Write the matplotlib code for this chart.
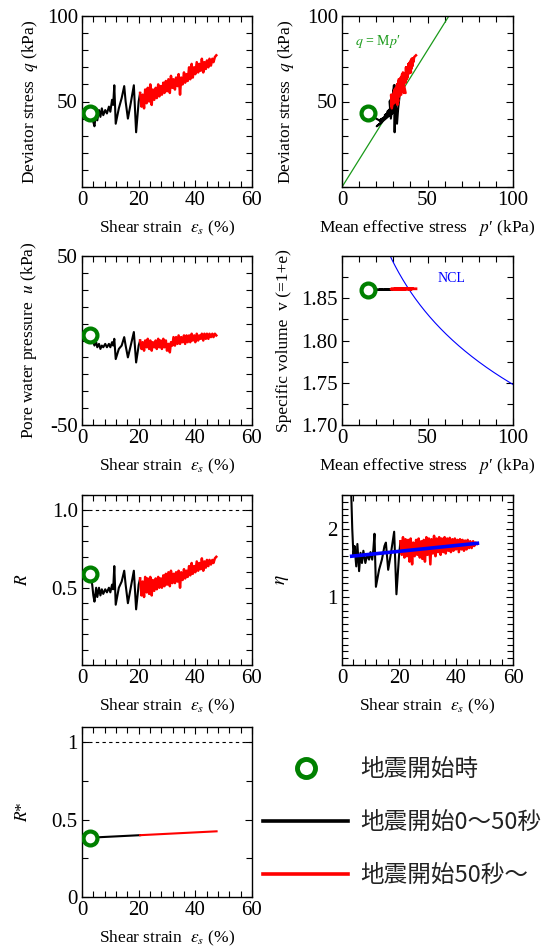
import numpy as np
import matplotlib
matplotlib.use("Agg")
import matplotlib.pyplot as plt
from matplotlib.lines import Line2D
from matplotlib.ticker import MultipleLocator, FixedLocator, FixedFormatter

plt.rcParams['font.family'] = 'serif'
plt.rcParams['font.serif'] = ['Liberation Serif', 'DejaVu Serif']
plt.rcParams['mathtext.fontset'] = 'stix'

# state at the start of shaking
eps0, q0, p0, u0, R0, v0, rs0 = 2.8, 43.4, 15.0, 3.1, 0.587, 1.860, 0.384

# 0-50 s after the start of shaking
eps_black = [3.0, 3.6, 4.0, 4.4, 5.0, 5.4, 6.0, 6.5, 7.0, 7.5,
             8.2, 8.8, 9.5, 10.0, 10.6, 11.0, 11.4, 11.9, 13.0, 14.0,
             14.9, 15.4, 16.2, 17.2, 18.3, 19.1, 20.0, 20.5]
q_black = [43, 40, 38, 35.5, 44, 39, 45, 41, 46, 42,
           45, 43, 47, 44, 51, 48, 59.5, 37, 46, 52,
           59, 50, 40, 49, 59.5, 32, 50, 55]
u_black = [2, 0, -1, -3, -1, -4, -2, -5, -3, -4,
           -2, -4, -2, -4, -1, -3, 1, -11, -5, -3,
           2, -3, -10, -3, 5, -13, -3, 0]
R_black = [0.58, 0.52, 0.45, 0.41, 0.50, 0.44, 0.50, 0.45, 0.49, 0.46,
           0.49, 0.47, 0.50, 0.47, 0.52, 0.49, 0.64, 0.39, 0.50, 0.54,
           0.61, 0.52, 0.40, 0.50, 0.61, 0.36, 0.52, 0.56]
eta_black = [2.87, 2.00, 1.62, 1.75, 1.45, 1.78, 1.38, 1.65, 1.50, 1.68,
             1.50, 1.62, 1.55, 1.66, 1.55, 1.70, 1.93, 1.15, 1.40, 1.55,
             1.75, 1.80, 1.40, 1.65, 1.96, 1.04, 1.60, 1.82]
v_black = [1.8600, 1.8600, 1.8600, 1.8600, 1.8600, 1.8601, 1.8601, 1.8601, 1.8601, 1.8601,
           1.8601, 1.8601, 1.8602, 1.8602, 1.8602, 1.8602, 1.8602, 1.8602, 1.8603, 1.8603,
           1.8603, 1.8603, 1.8603, 1.8604, 1.8604, 1.8604, 1.8604, 1.8605]

# 50 s after the start of shaking and later
eps_red = [20.5, 21.0, 21.4, 21.9, 22.3, 22.8, 23.2, 23.7, 24.1, 24.6,
           25.0, 25.5, 26.0, 26.4, 26.9, 27.3, 27.8, 28.2, 28.7, 29.1,
           29.6, 30.0, 30.5, 31.0, 31.4, 31.9, 32.3, 32.8, 33.2, 33.7,
           34.1, 34.6, 35.0, 35.5, 36.0, 36.4, 36.9, 37.3, 37.8, 38.2,
           38.7, 39.1, 39.6, 40.0, 40.5, 41.0, 41.4, 41.9, 42.3, 42.8,
           43.2, 43.7, 44.1, 44.6, 45.0, 45.5, 46.0, 46.4, 46.9, 47.4]
q_red = [55, 47, 54, 46, 57, 49, 58, 50, 60, 48,
         57, 51, 58, 52, 60, 53, 59, 54, 61, 55,
         62, 56, 63, 55, 65, 58, 63, 57, 64, 59,
         66, 54, 64, 60, 67, 61, 66, 62, 70, 63,
         72, 64, 70, 66, 73, 67, 72, 68, 75, 67,
         73, 69, 74, 70, 75, 71, 75, 73, 76, 77]
u_red = [0, -5, -1, -6, 0, -4, 1, -5, 0, -6,
         -1, -4, 0, -5, 1, -4, 0, -5, 1, -4,
         0, -6, -2, -7, -1, -3, 2, -3, 2, -2,
         3, -2, 2, -1, 3, -2, 3, -1, 3, -1,
         4, 0, 3, -1, 4, 0, 3, 1, 4, 0,
         4, 1, 4, 1, 4, 2, 4, 2, 4, 3]
R_red = [0.56, 0.45, 0.54, 0.44, 0.57, 0.47, 0.56, 0.46, 0.57, 0.45,
         0.55, 0.48, 0.56, 0.49, 0.57, 0.50, 0.56, 0.50, 0.58, 0.51,
         0.59, 0.52, 0.60, 0.51, 0.61, 0.53, 0.59, 0.53, 0.60, 0.54,
         0.61, 0.50, 0.60, 0.55, 0.62, 0.56, 0.61, 0.57, 0.64, 0.58,
         0.66, 0.59, 0.64, 0.60, 0.67, 0.61, 0.66, 0.62, 0.69, 0.61,
         0.67, 0.63, 0.68, 0.64, 0.68, 0.65, 0.68, 0.66, 0.69, 0.70]
eta_red = [1.82, 1.62, 1.88, 1.58, 1.85, 1.60, 1.84, 1.52, 1.86, 1.48,
           1.80, 1.60, 1.84, 1.62, 1.86, 1.58, 1.82, 1.56, 1.84, 1.52,
           1.88, 1.62, 1.86, 1.48, 1.85, 1.64, 1.90, 1.60, 1.86, 1.66,
           1.88, 1.62, 1.86, 1.66, 1.88, 1.64, 1.86, 1.68, 1.87, 1.66,
           1.85, 1.68, 1.86, 1.70, 1.84, 1.66, 1.85, 1.70, 1.84, 1.68,
           1.83, 1.70, 1.84, 1.72, 1.82, 1.72, 1.82, 1.75, 1.80, 1.78]
v_red = [1.8609, 1.8609, 1.8609, 1.8609, 1.8609, 1.8609, 1.8609, 1.8609, 1.8609, 1.8609,
         1.8610, 1.8610, 1.8610, 1.8610, 1.8610, 1.8610, 1.8610, 1.8610, 1.8610, 1.8610,
         1.8610, 1.8610, 1.8610, 1.8610, 1.8610, 1.8610, 1.8610, 1.8610, 1.8610, 1.8610,
         1.8611, 1.8611, 1.8611, 1.8611, 1.8611, 1.8611, 1.8611, 1.8611, 1.8611, 1.8611,
         1.8611, 1.8611, 1.8611, 1.8611, 1.8611, 1.8611, 1.8611, 1.8611, 1.8611, 1.8611,
         1.8612, 1.8612, 1.8612, 1.8612, 1.8612, 1.8612, 1.8612, 1.8612, 1.8612, 1.8612]

# R* (smooth)
rs_eps_black = [3.0, 20.5]
rs_black = [0.384, 0.400]
rs_eps_red = [20.5, 47.5]
rs_red = [0.400, 0.425]

# fitted eta trend
fit_eps = [3.4, 47.5]
fit_eta = [1.60, 1.79]

M = 1.6                  # critical state line slope
N_ncl, lam = 2.3006, 0.12  # NCL: v = N - lam ln p'

p_black = np.array(q_black) / np.array(eta_black)
p_red = np.array(q_red) / np.array(eta_red)

GREEN = '#008000'
circ = dict(marker='o', ms=10, mfc='white', mec=GREEN, mew=3, ls='none', zorder=10)
LAB = 12.5

fig = plt.figure(figsize=(5.45, 9.5), dpi=100)
W, H = 545.0, 950.0


def make_ax(x0, y0, x1, y1):
    return fig.add_axes([x0 / W, 1 - y1 / H, (x1 - x0) / W, (y1 - y0) / H])


def style(ax):
    ax.tick_params(which='both', direction='in', top=True, right=True,
                   labelsize=15, width=0.8, pad=3)
    ax.tick_params(which='major', length=5)
    ax.tick_params(which='minor', length=4)
    for s in ax.spines.values():
        s.set_linewidth(1.0)


def strain_x(ax):
    ax.set_xlim(0, 60)
    ax.set_xticks([0, 20, 40, 60])
    ax.xaxis.set_minor_locator(MultipleLocator(4))
    ax.set_xlabel(r"Shear strain  $\varepsilon_s$ (%)", fontsize=LAB, labelpad=6)


def pres_x(ax):
    ax.set_xlim(0, 100)
    ax.set_xticks([0, 50, 100])
    ax.xaxis.set_minor_locator(MultipleLocator(10))
    ax.set_xlabel("Mean effective stress   $p$′ (kPa)", fontsize=LAB, labelpad=6)


# q - eps
ax1 = make_ax(82, 16, 252, 187)
ax1.plot(eps_black, q_black, color='black', lw=1.5)
ax1.plot(eps_red, q_red, color='red', lw=1.8)
ax1.plot([eps0], [q0], **circ)
ax1.set_ylim(0, 100)
ax1.yaxis.set_major_locator(FixedLocator([50, 100]))
ax1.yaxis.set_minor_locator(MultipleLocator(10))
strain_x(ax1)
ax1.set_ylabel(r"Deviator stress  $q$ (kPa)", fontsize=LAB)
ax1.yaxis.set_label_coords(-0.25, 0.5)
style(ax1)

# q - p'
ax2 = make_ax(342, 16, 513, 187)
ax2.plot([0, 100], [0, 100 * M], color='#1a9a1a', lw=0.9)
ax2.text(7.6, 85, "$q$ = M$p$′", color='#1a9a1a', fontsize=10, va='center')
ax2.plot(p_black, q_black, color='black', lw=1.5)
ax2.plot(p_red, q_red, color='red', lw=1.8)
ax2.plot([p0], [q0], **circ)
ax2.set_ylim(0, 100)
ax2.yaxis.set_major_locator(FixedLocator([50, 100]))
ax2.yaxis.set_minor_locator(MultipleLocator(10))
pres_x(ax2)
ax2.set_ylabel(r"Deviator stress  $q$ (kPa)", fontsize=LAB)
ax2.yaxis.set_label_coords(-0.27, 0.5)
style(ax2)

# u - eps
ax3 = make_ax(82, 256, 252, 425)
ax3.plot(eps_black, u_black, color='black', lw=1.5)
ax3.plot(eps_red, u_red, color='red', lw=1.8)
ax3.plot([eps0], [u0], **circ)
ax3.set_ylim(-50, 50)
ax3.yaxis.set_major_locator(FixedLocator([-50, 0, 50]))
ax3.yaxis.set_major_formatter(FixedFormatter(['-50', '', '50']))
ax3.yaxis.set_minor_locator(MultipleLocator(10))
strain_x(ax3)
ax3.set_ylabel(r"Pore water pressure  $u$ (kPa)", fontsize=LAB)
ax3.yaxis.set_label_coords(-0.25, 0.5)
style(ax3)

# v - p'
ax4 = make_ax(342, 256, 513, 425)
p_ncl = np.linspace(20, 100, 200)
ax4.plot(p_ncl, N_ncl - lam * np.log(p_ncl), color='blue', lw=0.8)
ax4.text(56, 1.873, "NCL", color='blue', fontsize=10, va='center')
ax4.plot(p_black, v_black, color='black', lw=1.5)
ax4.plot(p_red, v_red, color='red', lw=2.0)
ax4.plot([p0], [v0], **circ)
ax4.set_ylim(1.70, 1.90)
ax4.yaxis.set_major_locator(FixedLocator([1.70, 1.75, 1.80, 1.85]))
ax4.yaxis.set_major_formatter(FixedFormatter(['1.70', '1.75', '1.80', '1.85']))
ax4.yaxis.set_minor_locator(MultipleLocator(0.025))
pres_x(ax4)
ax4.set_ylabel("Specific volume  v (=1+e)", fontsize=LAB)
ax4.yaxis.set_label_coords(-0.29, 0.5)
style(ax4)

# R - eps
ax5 = make_ax(82, 495, 252, 665)
ax5.axhline(1.0, color='black', lw=0.8, ls=(0, (3, 3)))
ax5.plot(eps_black, R_black, color='black', lw=1.5)
ax5.plot(eps_red, R_red, color='red', lw=1.8)
ax5.plot([eps0], [R0], **circ)
ax5.set_ylim(0, 1.1)
ax5.yaxis.set_major_locator(FixedLocator([0.5, 1.0]))
ax5.yaxis.set_major_formatter(FixedFormatter(['0.5', '1.0']))
ax5.yaxis.set_minor_locator(MultipleLocator(0.1))
strain_x(ax5)
ax5.set_ylabel(r"$R$", fontsize=LAB)
ax5.yaxis.set_label_coords(-0.30, 0.5)
style(ax5)

# eta - eps
ax6 = make_ax(342, 495, 513, 665)
ax6.plot(eps_black, eta_black, color='black', lw=1.5)
ax6.plot(eps_red, eta_red, color='red', lw=1.8)
ax6.plot(fit_eps, fit_eta, color='blue', lw=2.6)
ax6.set_ylim(0, 2.5)
ax6.yaxis.set_major_locator(FixedLocator([1, 2]))
ax6.yaxis.set_minor_locator(MultipleLocator(0.1))
strain_x(ax6)
ax6.set_ylabel(r"$\eta$", fontsize=14)
ax6.yaxis.set_label_coords(-0.30, 0.5)
style(ax6)

# R* - eps
ax7 = make_ax(82, 727, 252, 897)
ax7.axhline(1.0, color='black', lw=0.8, ls=(0, (3, 3)))
ax7.plot(rs_eps_black, rs_black, color='black', lw=1.5)
ax7.plot(rs_eps_red, rs_red, color='red', lw=1.5)
ax7.plot([eps0], [rs0], **circ)
ax7.set_ylim(0, 1.1)
ax7.yaxis.set_major_locator(FixedLocator([0, 0.5, 1]))
ax7.yaxis.set_major_formatter(FixedFormatter(['0', '0.5', '1']))
ax7.yaxis.set_minor_locator(MultipleLocator(0.25))
strain_x(ax7)
ax7.set_ylabel("$R$*", fontsize=LAB)
ax7.yaxis.set_label_coords(-0.30, 0.5)
style(ax7)

handles = [Line2D([], [], ls='none', marker='o', ms=13, mfc='white', mec=GREEN, mew=3.5),
           Line2D([], [], color='black', lw=2.6),
           Line2D([], [], color='red', lw=2.6)]
labels = ["地震開始時", "地震開始0〜50秒", "地震開始50秒〜"]
fig.legend(handles, labels, loc='upper left', bbox_to_anchor=(263 / W, 1 - 758 / H),
           frameon=False, prop={'family': ['Noto Sans CJK JP', 'DejaVu Sans'], 'size': 17},
           handlelength=3.6, handletextpad=0.5, labelspacing=1.27,
           borderpad=0, borderaxespad=0, labelcolor='#222222')

fig.savefig("out.png", dpi=100)
